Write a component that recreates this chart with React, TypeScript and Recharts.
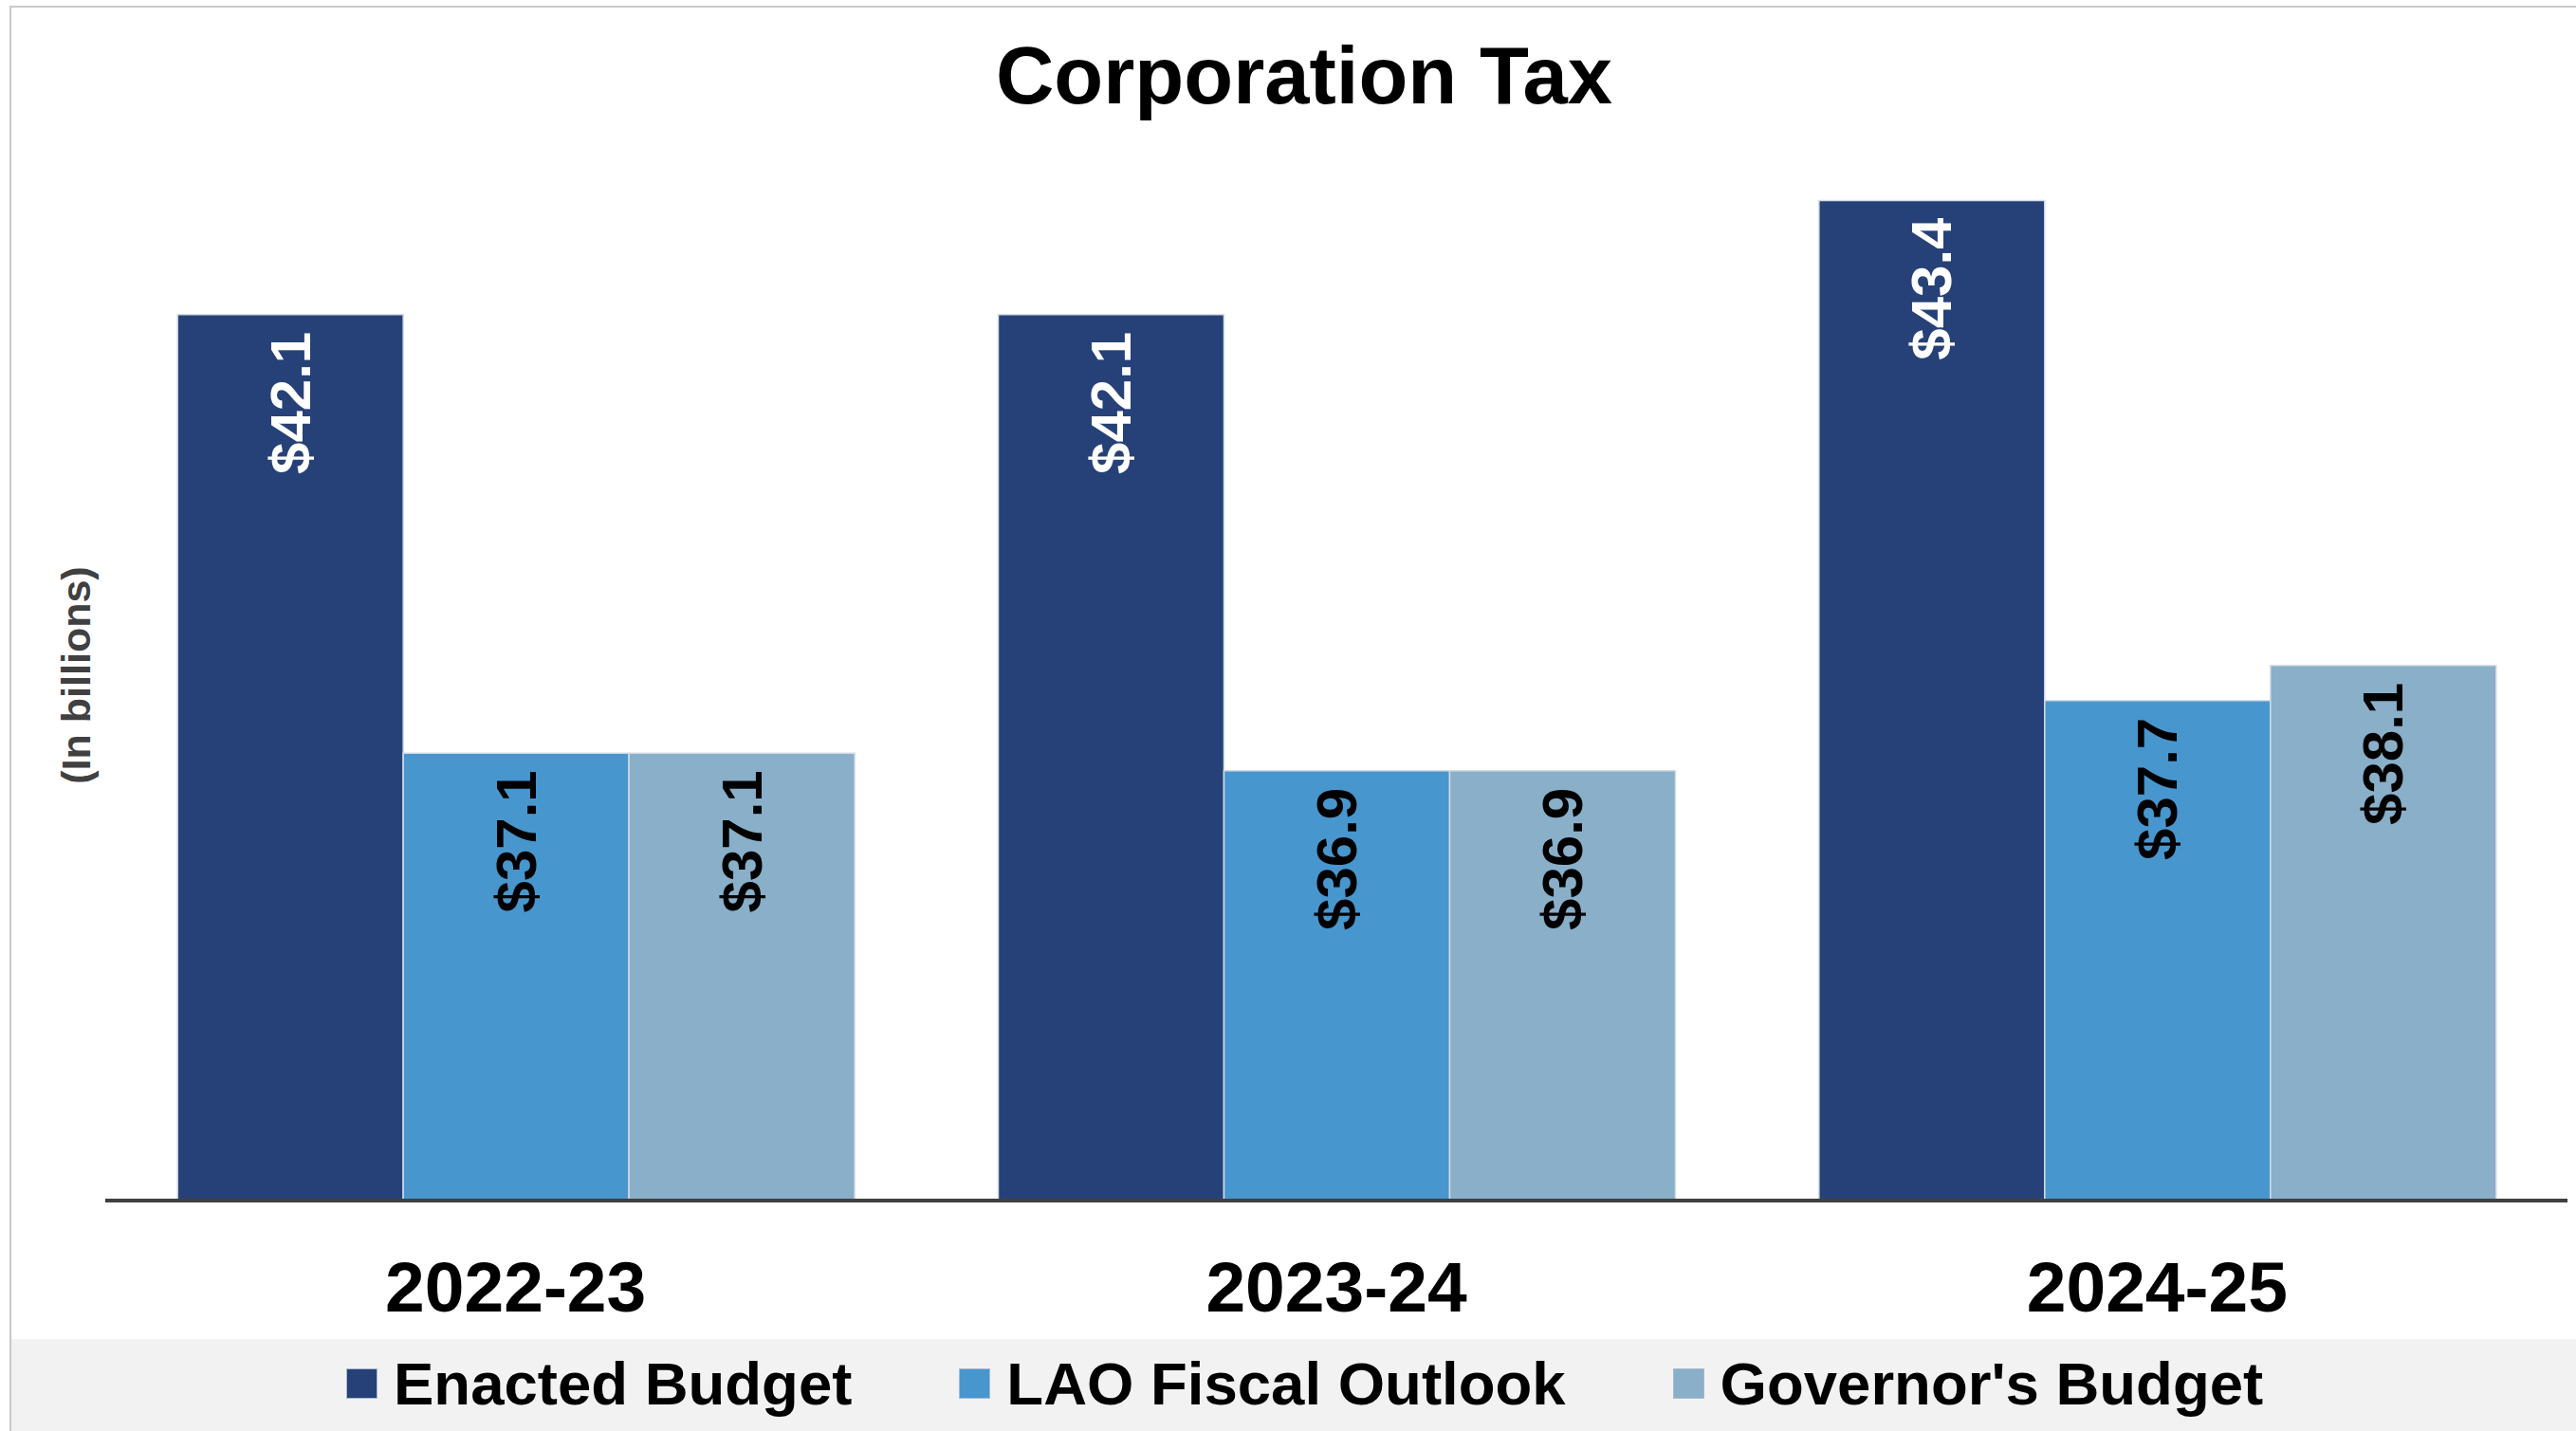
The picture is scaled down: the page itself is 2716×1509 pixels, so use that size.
import { BarChart, Bar, XAxis, YAxis, Legend, LabelList } from "recharts"

const years = ["2022-23", "2023-24", "2024-25"]
const enacted = [42.1, 42.1, 43.4]
const lao = [37.1, 36.9, 37.7]
const governor = [37.1, 36.9, 38.1]

const seriesKeys = ["enacted", "lao", "governor"]
const seriesNames = ["Enacted Budget", "LAO Fiscal Outlook", "Governor's Budget"]
const seriesColors = ["#264177", "#4896ce", "#89afc9"]
const labelColors = ["#ffffff", "#000000", "#000000"]

const data = years.map((year, i) => ({
  year,
  enacted: enacted[i],
  lao: lao[i],
  governor: governor[i]
}))

const font = '"Liberation Sans", Arial, sans-serif'

function makeLabel(color: string) {
  return (props: any) => {
    const { x, y, width, value } = props
    const cx = Number(x) + Number(width) / 2
    const ty = Number(y) + 18
    return (
      <text
        x={cx}
        y={ty}
        transform={`rotate(-90 ${cx} ${ty})`}
        textAnchor="end"
        dominantBaseline="central"
        fill={color}
        fontSize={60}
        fontWeight="bold"
        fontFamily={font}
      >
        {"$" + Number(value).toFixed(1)}
      </text>
    )
  }
}

// legend drawn in series order (recharts sorts payload by name otherwise)
function LegendContent() {
  return (
    <div
      style={{
        height: 97,
        boxSizing: "border-box",
        paddingBottom: 4,
        paddingLeft: 353,
        display: "flex",
        alignItems: "center",
        fontFamily: font,
        fontWeight: "bold",
        fontSize: 63.5,
        lineHeight: "64px",
        color: "#000"
      }}
    >
      {seriesNames.map((name, i) => (
        <div key={name} style={{ display: "flex", alignItems: "center", marginRight: 113 }}>
          <span
            style={{
              display: "inline-block",
              width: 31,
              height: 30,
              background: seriesColors[i],
              border: "1px solid #a9b9d0",
              marginRight: 17
            }}
          />
          <span>{name}</span>
        </div>
      ))}
    </div>
  )
}

export default function App() {
  return (
    <div
      style={{
        position: "absolute",
        left: 0,
        top: 0,
        width: 2716,
        height: 1509,
        overflow: "hidden",
        background: "#fff"
      }}
    >
      <div
        style={{
          position: "absolute",
          left: 10,
          top: 6,
          width: 2740,
          height: 1540,
          border: "2px solid #c9c9c9"
        }}
      />

      <div
        style={{
          position: "absolute",
          left: 0,
          top: 37,
          width: 2750,
          textAlign: "center",
          fontFamily: font,
          fontWeight: "bold",
          fontSize: 85,
          lineHeight: "85px",
          color: "#000"
        }}
      >
        Corporation Tax
      </div>

      <div
        style={{
          position: "absolute",
          left: 80 - 150,
          top: 712 - 25,
          width: 300,
          height: 50,
          lineHeight: "50px",
          textAlign: "center",
          transform: "rotate(-90deg)",
          fontFamily: font,
          fontWeight: "bold",
          fontSize: 43,
          color: "#404040"
        }}
      >
        (In billions)
      </div>

      <div style={{ position: "absolute", left: 0, top: 0 }}>
        <BarChart
          width={2716}
          height={1509}
          data={data}
          margin={{ top: 156, right: 9, bottom: 0, left: 111 }}
          barCategoryGap="8.8%"
          barGap={0}
        >
          <XAxis
            dataKey="year"
            tickLine={false}
            axisLine={{ stroke: "#404040", strokeWidth: 4 }}
            tick={{ fontSize: 75, fontWeight: "bold", fill: "#000", fontFamily: font }}
            tickSize={0}
            tickMargin={64}
            height={146}
            interval={0}
          />
          <YAxis hide domain={[32, 44]} allowDataOverflow />
          <Legend
            verticalAlign="bottom"
            content={<LegendContent />}
            wrapperStyle={{ left: 12, bottom: 0, width: 2704, height: 97, background: "#f2f2f2" }}
          />
          {seriesKeys.map((key, i) => (
            <Bar
              key={key}
              dataKey={key}
              name={seriesNames[i]}
              fill={seriesColors[i]}
              stroke="#d3dbe6"
              strokeWidth={1.5}
              isAnimationActive={false}
            >
              <LabelList dataKey={key} content={makeLabel(labelColors[i])} />
            </Bar>
          ))}
        </BarChart>
      </div>
    </div>
  )
}
